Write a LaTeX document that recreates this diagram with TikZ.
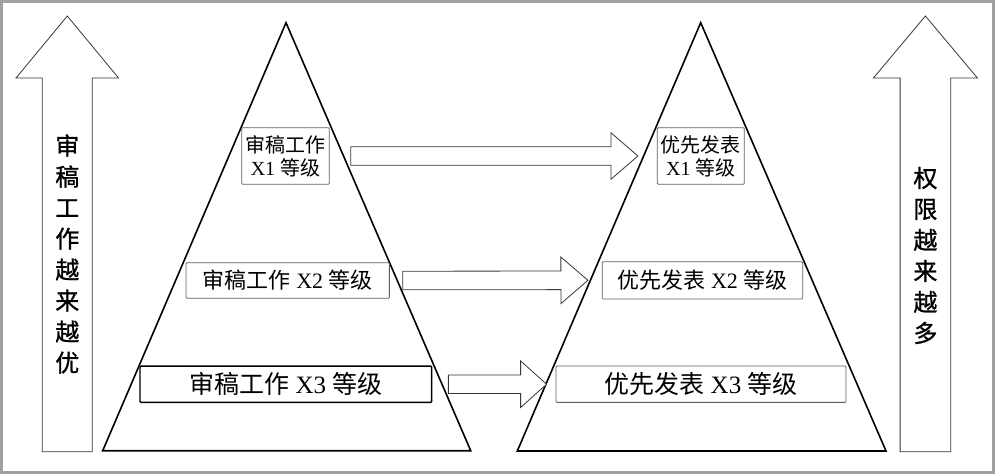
\documentclass[tikz,border=0pt]{standalone}
\usepackage{fontspec}
\usepackage{tikz}
\usetikzlibrary{calc}
\setmainfont{Liberation Serif}
\newfontfamily\cjk{Noto Sans CJK SC}
\newfontfamily\cjkside[FakeBold=1]{Noto Sans CJK SC}
\definecolor{frameGray}{RGB}{160, 160, 160}
\definecolor{boxGray}{RGB}{95, 95, 95}
\definecolor{arrowGray}{RGB}{55, 55, 55}

\tikzset{
  levelbox/.style={draw=boxGray, line width=0.8pt, fill=white, inner sep=0pt, rounded corners=1pt},
  pyramid/.style={draw=black, line width=1.6pt, line join=miter},
  arrowline/.style={draw=arrowGray, line width=0.8pt, fill=white, line join=miter},
  sidetext/.style={font=\cjkside\fontsize{24}{31}\selectfont, align=center, inner sep=0pt}
}

% block arrow: tail, tip, half shaft, half head, head length
\newcommand{\blockarrow}[5]{%
  \coordinate (ba-hb) at ($(#2)!#5!(#1)$);
  \draw[arrowline] ($(#1)!#3!90:(#2)$) -- ($(ba-hb)!#3!90:(#2)$) -- ($(ba-hb)!#4!90:(#2)$)
    -- (#2) -- ($(ba-hb)!#4!-90:(#2)$) -- ($(ba-hb)!#3!-90:(#2)$) -- ($(#1)!#3!-90:(#2)$) -- cycle;}

\begin{document}
\begin{tikzpicture}[x=1pt,y=-1pt]
\useasboundingbox (0,0) rectangle (995,474);
% Frame
\draw[frameGray, line width=3pt] (1.5,1.5) rectangle (993.5,472);

% Pyramids
\draw[pyramid] (102.7,450.7) -- (286,22.7) -- (470.7,450.7) -- cycle;
\draw[pyramid] (517.3,451) -- (700.7,22.7) -- (886,451) -- cycle;

% Review levels
\node[levelbox, minimum width=87.6pt, minimum height=56.6pt, align=center,
  font=\fontsize{20}{23}\selectfont] (rev1) at (285.5,156) {{\cjk 审稿工作}\\X1 {\cjk 等级}};
\node[levelbox, minimum width=203.3pt, minimum height=35.6pt,
  font=\fontsize{22}{25}\selectfont] (rev2) at (287.7,280.5) {{\cjk 审稿工作} X2 {\cjk 等级}};
\node[levelbox, draw=black, line width=1.4pt, minimum width=291.7pt, minimum height=36.3pt,
  font=\fontsize{25}{28}\selectfont] (rev3) at (285.8,384.2) {{\cjk 审稿工作} X3 {\cjk 等级}};

% Publishing levels
\node[levelbox, minimum width=87pt, minimum height=56.6pt, align=center,
  font=\fontsize{20}{23}\selectfont] (pub1) at (700.8,156) {{\cjk 优先发表}\\X1 {\cjk 等级}};
\node[levelbox, minimum width=200.4pt, minimum height=37.3pt,
  font=\fontsize{22}{25}\selectfont] (pub2) at (702.5,280.3) {{\cjk 优先发表} X2 {\cjk 等级}};
\node[levelbox, minimum width=290pt, minimum height=36.3pt,
  font=\fontsize{25}{28}\selectfont] (pub3) at (701,384.2) {{\cjk 优先发表} X3 {\cjk 等级}};

% Block arrows between levels
\coordinate (a1s) at ([xshift=21pt]rev1.east);
\coordinate (a1e) at ([xshift=-19pt]pub1.west);
\coordinate (a2s) at ([xshift=13pt]rev2.east);
\coordinate (a2e) at ([xshift=-14pt]pub2.west);
\coordinate (a3s) at ([xshift=16pt]rev3.east);
\coordinate (a3e) at ([xshift=-9pt]pub3.west);
\blockarrow{a1s}{a1e}{9.3pt}{23.3pt}{27pt}
\blockarrow{a2s}{a2e}{9.3pt}{23.3pt}{27pt}
\blockarrow{a3s}{a3e}{9.3pt}{23.3pt}{26pt}

% Side arrows
\coordinate (lbot) at (67.3,451.7);
\coordinate (ltop) at (67.3,16);
\coordinate (rbot) at (925.4,451.7);
\coordinate (rtop) at (925.4,16);
\blockarrow{lbot}{ltop}{25pt}{51.3pt}{62pt}
\blockarrow{rbot}{rtop}{25.3pt}{52pt}{62pt}
\node[sidetext] (ltext) at (67.3,254) {审\\稿\\工\\作\\越\\来\\越\\优};
\node[sidetext] (rtext) at (925.4,255.5) {权\\限\\越\\来\\越\\多};
\end{tikzpicture}
\end{document}
